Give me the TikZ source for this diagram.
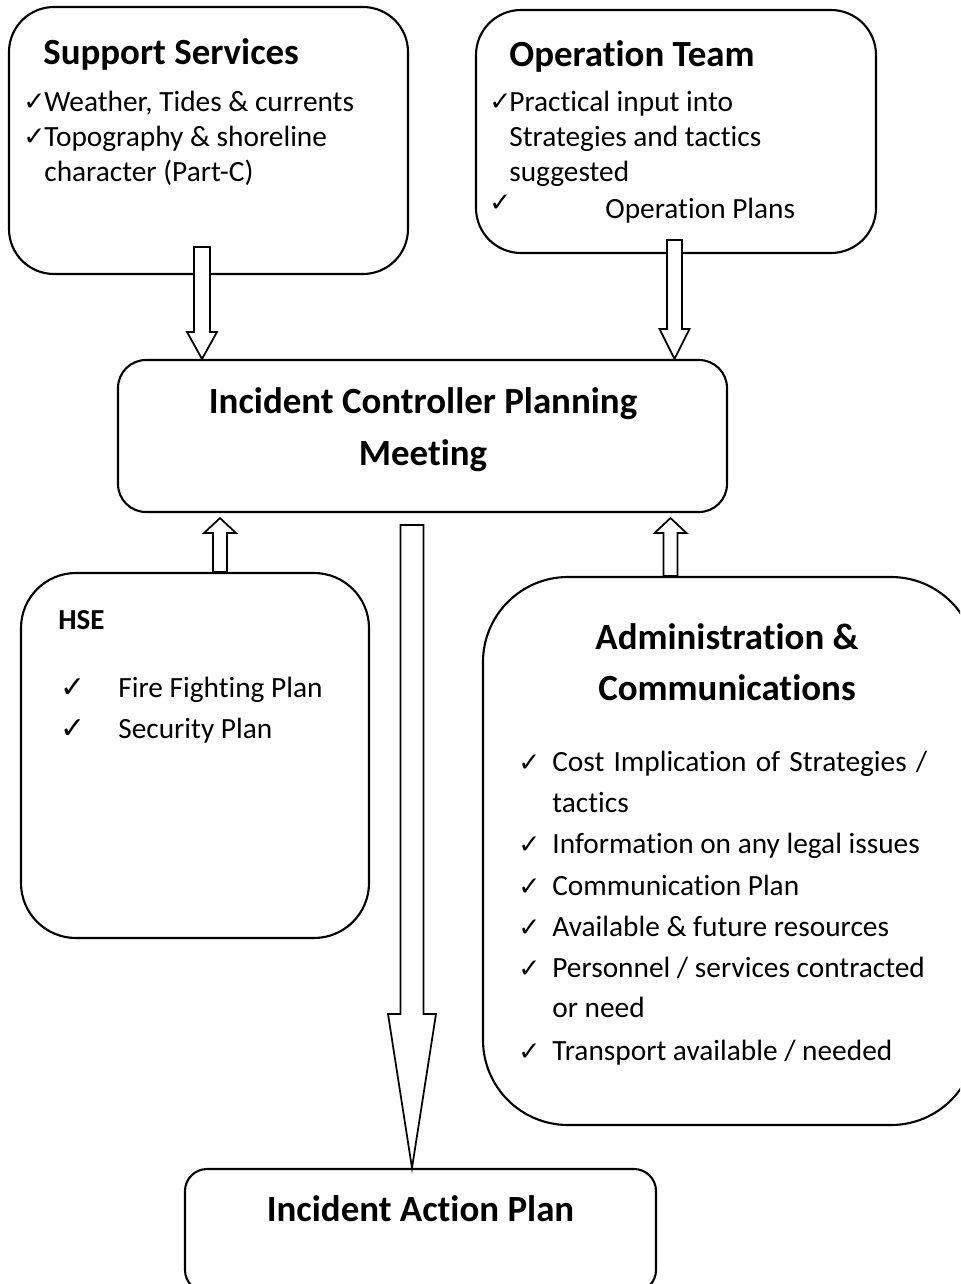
\documentclass[tikz,border=0pt]{standalone}
\usepackage{fontspec}
\setmainfont{Carlito}[Ligatures={NoCommon}]
\newfontfamily\tickfont{DejaVu Sans}
\usetikzlibrary{calc}
\newdimen\pxu
\pxu=0.02cm
% hollow block arrow: from, to, shaft half width, head half width, head length
\newcommand{\blockarrow}[5]{%
  \draw[blockline] ($(#1)+(-#3,0)$) -- ($(#1)+(#3,0)$) -- ($(#2)+(#3,0)-(0,#5)$)
    -- ($(#2)+(#4,0)-(0,#5)$) -- (#2) -- ($(#2)+(-#4,0)-(0,#5)$)
    -- ($(#2)+(-#3,0)-(0,#5)$) -- cycle;}

\begin{document}
\begin{tikzpicture}[x=0.02cm, y=-0.02cm,
    panel/.style={draw, line width=1.2pt, rounded corners=#1, inner sep=0pt},
    blockline/.style={draw, fill=white, line width=1pt, line join=miter},
    head/.style={inner sep=0pt, font=\fontsize{21}{25}\selectfont\bfseries},
    item/.style={inner sep=0pt, anchor=base west, font=\fontsize{16.7}{20}\selectfont},
    tick/.style={inner sep=0pt, anchor=base west, font=\tickfont\fontsize{#1}{18}\selectfont},
    tick/.default=15]
    \useasboundingbox (0,0) rectangle (960,1284);
    \clip (0,0) rectangle (960,1284);
    % Boxes
    \node[panel=45\pxu, minimum width=399\pxu, minimum height=267\pxu] (supp) at (208.5,140.5) {};
    \node[panel=45\pxu, minimum width=400\pxu, minimum height=243\pxu] (opt) at (676,131.5) {};
    \node[panel=28\pxu, minimum width=609\pxu, minimum height=152\pxu] (icpm) at (422.5,436) {};
    \node[panel=55\pxu, minimum width=348\pxu, minimum height=365\pxu] (hse) at (195,755.5) {};
    \node[panel=85\pxu, minimum width=493\pxu, minimum height=548\pxu] (admin) at (729.5,851) {};
    \node[panel=22\pxu, minimum width=471\pxu, minimum height=123\pxu] (iap) at (420.5,1230.5) {};
    % Arrow ends
    \coordinate (a1s) at ($(supp.south)+(-6.5,-28)$);
    \coordinate (a1t) at (a1s |- icpm.north);
    \coordinate (a2s) at ($(opt.south)+(-1.5,-14)$);
    \coordinate (a2t) at (a2s |- icpm.north);
    \coordinate (a3s) at ($(hse.north)+(25,0)$);
    \coordinate (a3t) at ($(a3s |- icpm.south)+(0,5)$);
    \coordinate (a4s) at ($(admin.north)+(-59,0)$);
    \coordinate (a4t) at ($(a4s |- icpm.south)+(0,5)$);
    \coordinate (a5s) at ($(icpm.south)+(-10.5,12)$);
    \coordinate (a5t) at (a5s |- iap.north);
    % Block arrows
    \blockarrow{a1s}{a1t}{8}{15}{27}
    \blockarrow{a2s}{a2t}{7.5}{15}{30}
    \blockarrow{a3s}{a3t}{7}{16}{-15}
    \blockarrow{a4s}{a4t}{7}{16}{-15}
    \blockarrow{a5s}{a5t}{11.5}{24}{154}
    % Support Services
    \node[head, anchor=base west] (supph) at (43,65) {Support Services};
    \foreach \txt/\yy [count=\i] in {{Weather, Tides \& currents}/112, {Topography \& shoreline}/147, {character (Part-C)}/182}
        \node[item] (supp\i) at (44,\yy) {\txt};
    \foreach \yy [count=\i] in {111, 146}
        \node[tick] (suppc\i) at (23,\yy) {✓};
    % Operation Team
    \node[head, anchor=base west] (opth) at (509,67) {Operation Team};
    \foreach \txt/\yy [count=\i] in {{Practical input into}/112, {Strategies and tactics}/147, {suggested}/182}
        \node[item] (opt\i) at (509,\yy) {\txt};
    \node[item] (opt4) at (605,218) {Operation Plans};
    \foreach \yy [count=\i] in {111, 212}
        \node[tick] (optc\i) at (489,\yy) {✓};
    % Planning meeting
    \node[head, anchor=base] (icpm1) at (423,413) {Incident Controller Planning};
    \node[head, anchor=base] (icpm2) at (423,465) {Meeting};
    % HSE
    \node[item, font=\fontsize{16.5}{20}\selectfont\bfseries] (hseh) at (58,629) {HSE};
    \foreach \txt/\yy [count=\i] in {{Fire Fighting Plan}/697, {Security Plan}/738} {
        \node[tick=17] (hsec\i) at (60,\yy) {✓};
        \node[item] (hse\i) at (118,\yy) {\txt};
    }
    % Administration & Communications
    \node[head, anchor=base] (adminh1) at (727,649) {Administration \&};
    \node[head, anchor=base] (adminh2) at (727,700) {Communications};
    \foreach \txt/\yy [count=\i] in {{\makebox[375\pxu][s]{Cost Implication of Strategies /}}/771, {tactics}/812,
        {Information on any legal issues}/853, {Communication Plan}/895, {Available \& future resources}/936,
        {Personnel / services contracted}/977, {or need}/1017, {Transport available / needed}/1060}
        \node[item] (admin\i) at (552,\yy) {\txt};
    \foreach \yy [count=\i] in {771, 853, 895, 936, 977, 1060}
        \node[tick] (adminc\i) at (518,\yy) {✓};
    % Action plan
    \node[head, anchor=base] (iaph) at (420.5,1221) {Incident Action Plan};
\end{tikzpicture}
\end{document}
